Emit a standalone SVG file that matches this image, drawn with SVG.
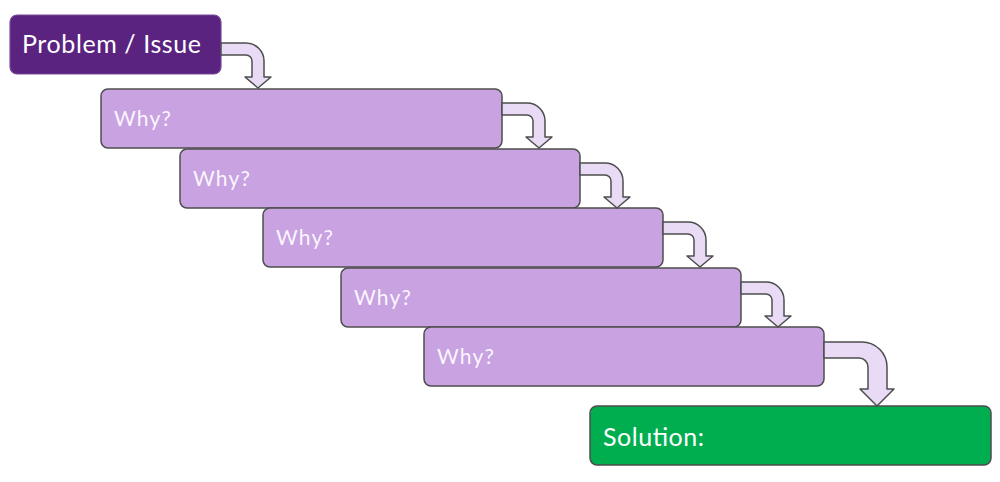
<svg xmlns="http://www.w3.org/2000/svg" width="1000" height="482" viewBox="0 0 1000 482">
<style>
.why rect{fill:#c8a2e1;stroke:#4d4d4d;stroke-width:1.5}
.why text{fill:#fbf6ff;font-family:Lato,"Open Sans",sans-serif;font-size:21px}
.big{fill:#fff;font-family:Lato,"Open Sans",sans-serif;font-size:25px}
.arr{fill:#e9dbf5;stroke:#4d4d4d;stroke-width:1.5;stroke-linejoin:round}
</style>
<rect width="1000" height="482" fill="#fff"/>
<g id="problem">
<rect x="10" y="15" width="211" height="59" rx="7" fill="#5a237f" stroke="#7a4a9a" stroke-width="1.2"/>
<text class="big" x="22" y="53" textLength="179">Problem / Issue</text>
</g>
<g id="why1" class="why"><rect x="101" y="89" width="401" height="59" rx="7"/><text x="114" y="126" textLength="57">Why?</text></g>
<g id="why2" class="why"><rect x="180" y="149" width="400" height="59" rx="7"/><text x="193" y="186" textLength="57">Why?</text></g>
<g id="why3" class="why"><rect x="263" y="208" width="400" height="59" rx="7"/><text x="276" y="245" textLength="57">Why?</text></g>
<g id="why4" class="why"><rect x="341" y="268" width="400" height="59" rx="7"/><text x="354" y="305" textLength="57">Why?</text></g>
<g id="why5" class="why"><rect x="424" y="327" width="400" height="59" rx="7"/><text x="437" y="364" textLength="57">Why?</text></g>
<g id="solution">
<rect x="590" y="406" width="401" height="59" rx="7" fill="#00ae4f" stroke="#4d4d4d" stroke-width="1.5"/>
<text class="big" x="603" y="446" textLength="101">Solution:</text>
</g>
<g id="connectors">
<path class="arr" d="M221,43 H246 A18,18 0 0 1 264,61 V77 H271 L258,88 L245,77 H252 V61 A6,6 0 0 0 246,55 H221 Z"/>
<path class="arr" d="M502,103 H527 A18,18 0 0 1 545,121 V137 H552 L539,148 L526,137 H533 V121 A6,6 0 0 0 527,115 H502 Z"/>
<path class="arr" d="M580,163 H605 A18,18 0 0 1 623,181 V197 H630 L617,208 L604,197 H611 V181 A6,6 0 0 0 605,175 H580 Z"/>
<path class="arr" d="M663,222 H688 A18,18 0 0 1 706,240 V256 H713 L700,267 L687,256 H694 V240 A6,6 0 0 0 688,234 H663 Z"/>
<path class="arr" d="M741,282 H766 A18,18 0 0 1 784,300 V316 H791 L778,327 L765,316 H772 V300 A6,6 0 0 0 766,294 H741 Z"/>
<path class="arr" d="M824,342 H862 A25,25 0 0 1 887,367 V389 H894 L877,406 L860,389 H868 V367 A9,9 0 0 0 859,358 H824 Z"/>
</g>
</svg>
